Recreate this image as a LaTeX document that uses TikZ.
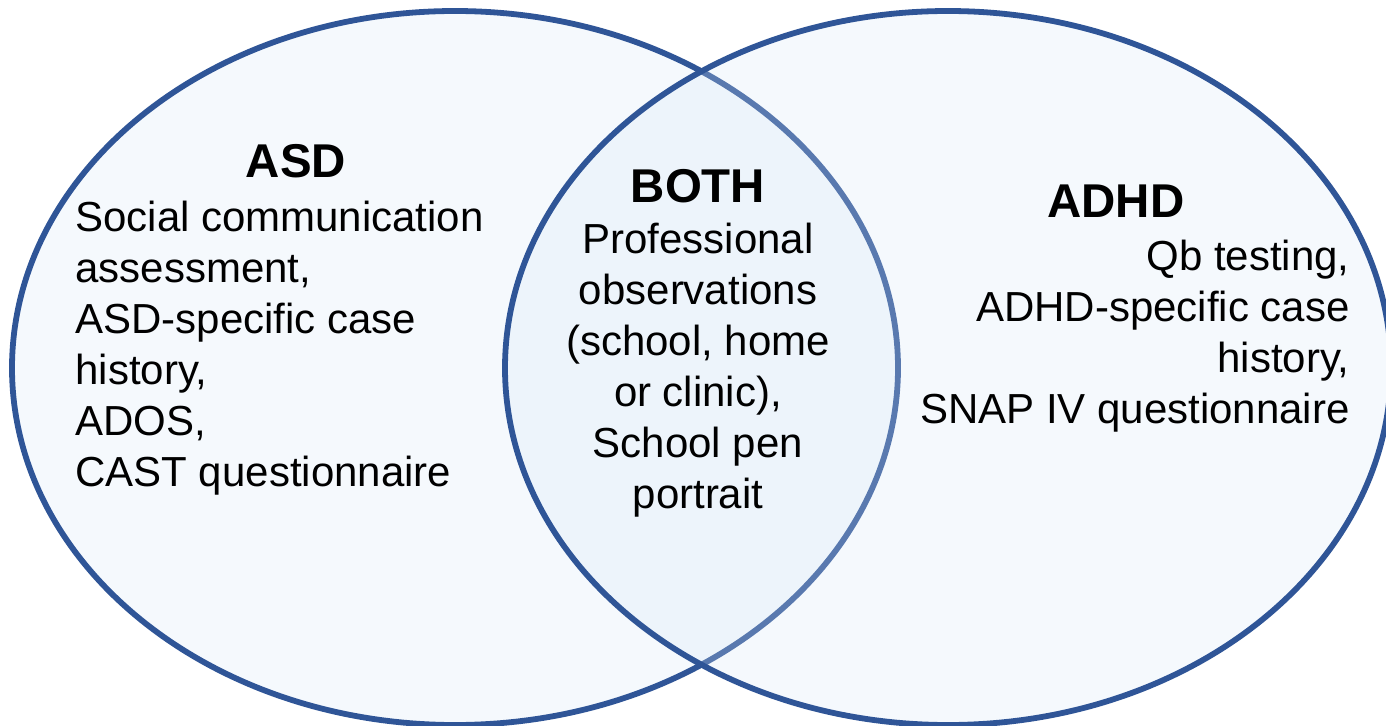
\documentclass[tikz,border=0pt]{standalone}
\usepackage{fontspec}
\setmainfont{Liberation Sans}
\definecolor{vennblue}{RGB}{47,85,151}
\definecolor{vennfill}{RGB}{215,231,247}
\begin{document}
\begin{tikzpicture}[
    x=0.02cm, y=-0.02cm,
    set/.style={draw=vennblue, line width=3.3pt, fill=vennfill, fill opacity=0.25, draw opacity=1},
    title/.style={font=\fontsize{27}{32}\selectfont\bfseries, inner sep=0pt},
    item/.style={font=\fontsize{23.9}{29}\selectfont, inner sep=0pt}
]
\useasboundingbox (0,0) rectangle (1386,726);
% Die beiden Mengen
\draw[set] (455,368) ellipse [x radius=443, y radius=357];
\draw[set] (948,368) ellipse [x radius=443, y radius=357];

% Linke Menge
\node[title, anchor=base] (asd) at (296,178) {ASD};
\node[item, align=left, anchor=north west] (asdlist) at (75,201) {Social communication\\assessment,\\ASD-specific case\\history,\\ADOS,\\CAST questionnaire};

% Schnittmenge
\node[title, anchor=base] (both) at (698,203) {BOTH};
\node[item, align=center, anchor=north] (bothlist) at (698,223) {Professional\\observations\\(school, home\\or clinic),\\School pen\\portrait};

% Rechte Menge
\node[title, anchor=base] (adhd) at (1116,218) {ADHD};
\node[item, align=right, anchor=north east] (adhdlist) at (1350,240) {Qb testing,\\ADHD-specific case\\history,\\SNAP IV questionnaire};
\end{tikzpicture}
\end{document}
